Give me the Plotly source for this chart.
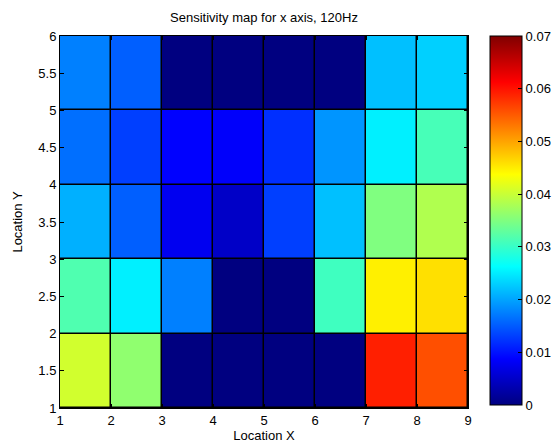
import plotly.graph_objects as go

x_edges = [1, 2, 3, 4, 5, 6, 7, 8, 9]
y_edges = [1, 2, 3, 4, 5, 6]
# rows from bottom (y 1-2) to top (y 5-6)
row_y1 = [0.0406, 0.0361, 0.0, 0.0, 0.0, 0.0, 0.0591, 0.0558]
row_y2 = [0.0317, 0.0252, 0.0175, 0.0, 0.0, 0.0306, 0.0448, 0.0459]
row_y3 = [0.0208, 0.0153, 0.0077, 0.0049, 0.0131, 0.0219, 0.0350, 0.0383]
row_y4 = [0.0164, 0.0131, 0.0088, 0.0085, 0.0120, 0.0190, 0.0252, 0.0311]
row_y5 = [0.0175, 0.0153, 0.0, 0.0, 0.0, 0.0, 0.0219, 0.0230]
z = [row_y1, row_y2, row_y3, row_y4, row_y5]

cb_ticks = [0, 0.01, 0.02, 0.03, 0.04, 0.05, 0.06, 0.07]
cb_text = ["0", "0.01", "0.02", "0.03", "0.04", "0.05", "0.06", "0.07"]

jet = [
    [0.0, "rgb(0,0,128)"],
    [0.125, "rgb(0,0,255)"],
    [0.375, "rgb(0,255,255)"],
    [0.625, "rgb(255,255,0)"],
    [0.875, "rgb(255,0,0)"],
    [1.0, "rgb(128,0,0)"],
]

W, H = 559, 446
L, R, T, B = 60, 91, 36, 38
pw = W - L - R
FS = 13

fig = go.Figure(go.Heatmap(
    x=x_edges, y=y_edges, z=z,
    zmin=0, zmax=0.07, colorscale=jet,
    xgap=1.5, ygap=1.5,
    hoverinfo="skip",
    colorbar=dict(
        x=(490 - L) / pw, xanchor="left", xpad=0, ypad=0,
        y=1, yanchor="top", len=369, lenmode="pixels",
        thickness=32, thicknessmode="pixels",
        outlinecolor="black", outlinewidth=1,
        tickvals=cb_ticks, ticktext=cb_text,
        ticks="inside", ticklen=4, tickcolor="black",
        tickfont=dict(size=FS, color="black"),
    ),
))

fig.update_layout(
    width=W, height=H,
    margin=dict(l=L, r=R, t=T, b=B, autoexpand=False),
    paper_bgcolor="white", plot_bgcolor="black",
    font=dict(family="Liberation Sans, Arial, sans-serif", size=FS, color="black"),
    title=dict(text="Sensitivity map for x axis, 120Hz", x=0.5, xref="paper",
               xanchor="center", y=1 - 17 / H, yanchor="middle",
               font=dict(size=FS)),
)
fig.update_xaxes(
    range=[1, 9], tickvals=x_edges, ticks="inside", ticklen=4, tickcolor="black",
    showline=True, linecolor="black", linewidth=1, mirror="ticks", automargin=False,
    showgrid=False, zeroline=False, title=dict(text="Location X", standoff=0, font=dict(size=FS)),
    tickfont=dict(size=FS),
)
fig.update_yaxes(
    range=[1, 6], tickvals=[1, 1.5, 2, 2.5, 3, 3.5, 4, 4.5, 5, 5.5, 6],
    ticktext=["1", "1.5", "2", "2.5", "3", "3.5", "4", "4.5", "5", "5.5", "6"],
    ticks="inside", ticklen=4, tickcolor="black",
    showline=True, linecolor="black", linewidth=1, mirror="ticks", automargin=False,
    showgrid=False, zeroline=False, title=dict(text="Location Y", standoff=12, font=dict(size=FS)),
    tickfont=dict(size=FS),
)

fig.write_html(
    "out.html",
    config={"displayModeBar": False, "staticPlot": True},
    post_script="document.body.style.margin='0px';document.body.style.overflow='hidden';",
)
